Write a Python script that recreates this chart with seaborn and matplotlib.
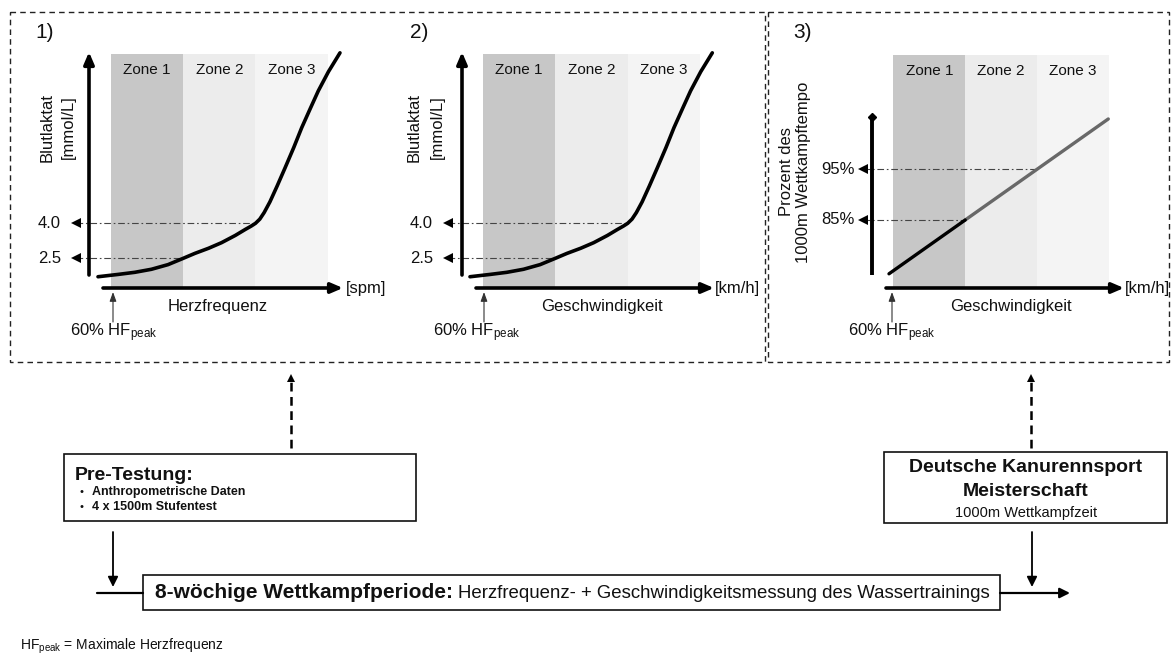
import matplotlib
matplotlib.use("Agg")
import matplotlib.pyplot as plt
import seaborn as sns
from matplotlib.patches import Rectangle
from matplotlib.transforms import blended_transform_factory

# ---- data -------------------------------------------------------------
zone_edges = [0, 1, 2, 3]
zone_names = ["Zone 1", "Zone 2", "Zone 3"]
zone_colors = ["#c7c7c7", "#ececec", "#f4f4f4"]

# lactate curve (mmol/L) over intensity, expressed in zone units
lactate_x = [-0.18, 0.10, 0.33, 0.56, 0.79, 1.00, 1.16, 1.35, 1.53, 1.72, 1.86, 1.94, 2.00,
             2.06, 2.12, 2.20, 2.30, 2.41, 2.53, 2.64, 2.76, 2.87, 3.01, 3.17]
lactate_y = [1.71, 1.81, 1.90, 2.03, 2.23, 2.50, 2.71, 2.93, 3.17, 3.48, 3.74, 3.88, 4.00,
             4.18, 4.46, 4.92, 5.60, 6.38, 7.25, 8.10, 8.93, 9.68, 10.50, 11.31]
lactate_levels = [2.5, 4.0]
lactate_labels = ["2.5", "4.0"]
lactate_level_x = [1.0, 2.0]

# percentage of 1000 m race pace over speed
pace_x = [-0.06, 1.0, 2.0, 2.99]
pace_y = [74.4, 85.0, 95.0, 104.9]
pace_levels = [85, 95]
pace_labels = ["85%", "95%"]
pace_level_x = [1.0, 2.0]

# ---- style ------------------------------------------------------------
sns.set_theme(style="white")
plt.rcParams["font.family"] = ["Liberation Sans", "DejaVu Sans"]
plt.rcParams["mathtext.default"] = "regular"
TXT = "#111111"

W, H = 1173, 658
fig = plt.figure(figsize=(W / 100, H / 100), dpi=100)
fig.patch.set_facecolor("white")

# overlay in pixel units for frames, arrows and annotations
canvas = fig.add_axes([0, 0, 1, 1])
canvas.set_xlim(0, W)
canvas.set_ylim(H, 0)
canvas.axis("off")
canvas.set_zorder(5)
canvas.patch.set_alpha(0)


def arrow(x0, y0, x1, y1, lw=1.0, hl=0.6, hw=0.3, color="black"):
    canvas.annotate("", xy=(x1, y1), xytext=(x0, y0),
                    arrowprops=dict(arrowstyle=f"-|>,head_length={hl},head_width={hw}",
                                    lw=lw, color=color, shrinkA=0, shrinkB=0,
                                    mutation_scale=10))


def make_panel(l, t, r, b, ylim):
    ax = fig.add_axes([l / W, 1 - b / H, (r - l) / W, (b - t) / H])
    ax.set_xlim(zone_edges[0], zone_edges[-1])
    ax.set_ylim(*ylim)
    ax.axis("off")
    for lo, hi, name, c in zip(zone_edges[:-1], zone_edges[1:], zone_names, zone_colors):
        ax.axvspan(lo, hi, color=c, lw=0, zorder=0)
        ax.text((lo + hi) / 2, 0.932, name, transform=ax.get_xaxis_transform(),
                ha="center", va="center", fontsize=11, color=TXT)
    return ax


def level_guides(ax, xs, ys, labels, x_start, label_px):
    trans = blended_transform_factory(canvas.transData, ax.transData)
    for xv, yv, lab in zip(xs, ys, labels):
        ax.plot([x_start, xv], [yv, yv], color="#444444", lw=0.8,
                dashes=(6, 2.5, 1.5, 2.5), clip_on=False, zorder=2)
        ax.plot([x_start], [yv], marker="<", ms=7, color="black", mew=0,
                clip_on=False, zorder=3)
        canvas.text(label_px, yv, lab, transform=trans, ha="right", va="center",
                    fontsize=12, color=TXT)


def axes_arrows(yaxis_x, y_bottom, y_top, x_left, x_right, xaxis_y, diamond=False):
    if diamond:
        canvas.plot([yaxis_x, yaxis_x], [y_bottom, y_top + 2], color="black", lw=2.8,
                    solid_capstyle="butt")
        canvas.plot([yaxis_x], [y_top], marker="D", ms=4.5, color="black")
    else:
        arrow(yaxis_x, y_bottom, yaxis_x, y_top, lw=2.6, hl=0.7, hw=0.3)
    arrow(x_left, xaxis_y, x_right, xaxis_y, lw=2.6, hl=0.7, hw=0.3)


def hf_marker(x, text_x):
    arrow(x, 322, x, 292, lw=0.8, hl=0.55, hw=0.2, color="#333333")
    canvas.text(text_x, 333, r"60% $\mathregular{HF_{peak}}$", ha="left", va="center",
                fontsize=12, color=TXT)


# ---- dashed frames ----------------------------------------------------
for (x0, y0, w, h) in [(10, 12, 755, 350), (768, 12, 401, 350)]:
    canvas.add_patch(Rectangle((x0, y0), w, h, fill=False, lw=1.0, ec="#222222",
                               ls=(0, (4, 3))))

# ---- panel 1: lactate vs heart rate ----------------------------------
ax1 = make_panel(111, 54, 327.7, 287, (1.27, 11.26))
sns.lineplot(x=lactate_x, y=lactate_y, ax=ax1, color="black", lw=2.6,
             sort=False, estimator=None, clip_on=False, zorder=4)
level_guides(ax1, lactate_level_x, lactate_levels, lactate_labels, -0.48, 61)
axes_arrows(89, 275, 52, 103, 343, 288)
canvas.text(35, 32, "1)", fontsize=15, ha="left", va="center", color=TXT)
canvas.text(47, 127, "Blutlaktat", rotation=90, ha="center", va="center", fontsize=12, color=TXT)
canvas.text(68, 127, "[mmol/L]", rotation=90, ha="center", va="center", fontsize=12, color=TXT)
canvas.text(218, 306, "Herzfrequenz", ha="center", va="center", fontsize=12, color=TXT)
canvas.text(346, 288, "[spm]", ha="left", va="center", fontsize=12, color=TXT)
hf_marker(113, 70)

# ---- panel 2: lactate vs speed ---------------------------------------
ax2 = make_panel(483, 54, 700, 287, (1.27, 11.26))
sns.lineplot(x=lactate_x, y=lactate_y, ax=ax2, color="black", lw=2.6,
             sort=False, estimator=None, clip_on=False, zorder=4)
level_guides(ax2, lactate_level_x, lactate_levels, lactate_labels, -0.48, 433)
axes_arrows(462, 275, 52, 476, 714, 288)
canvas.text(410, 32, "2)", fontsize=15, ha="left", va="center", color=TXT)
canvas.text(414, 127, "Blutlaktat", rotation=90, ha="center", va="center", fontsize=12, color=TXT)
canvas.text(437, 127, "[mmol/L]", rotation=90, ha="center", va="center", fontsize=12, color=TXT)
canvas.text(602, 306, "Geschwindigkeit", ha="center", va="center", fontsize=12, color=TXT)
canvas.text(715, 288, "[km/h]", ha="left", va="center", fontsize=12, color=TXT)
hf_marker(484, 433)

# ---- panel 3: race pace vs speed -------------------------------------
ax3 = make_panel(893.3, 55, 1109, 287, (71.8, 117.5))
sns.lineplot(x=pace_x[1:], y=pace_y[1:], ax=ax3, color="#686868", lw=2.4,
             sort=False, estimator=None, clip_on=False, zorder=4)
sns.lineplot(x=pace_x[:2], y=pace_y[:2], ax=ax3, color="black", lw=2.4,
             sort=False, estimator=None, clip_on=False, zorder=5)
level_guides(ax3, pace_level_x, pace_levels, pace_labels, -0.42, 855)
axes_arrows(872, 275, 117, 886, 1124, 288, diamond=True)
canvas.text(793, 32, "3)", fontsize=15, ha="left", va="center", color=TXT)
canvas.text(795, 172, "Prozent des\n1000m Wettkampftempo", rotation=90, ha="center",
            va="center", multialignment="center", fontsize=12, linespacing=1.2, color=TXT)
canvas.text(1011, 306, "Geschwindigkeit", ha="center", va="center", fontsize=12, color=TXT)
canvas.text(1125, 288, "[km/h]", ha="left", va="center", fontsize=12, color=TXT)
hf_marker(892, 848)

# ---- flow diagram -----------------------------------------------------
for xa in (291, 1031):
    canvas.plot([xa, xa], [448, 382], color="black", lw=1.8, dashes=(3.5, 2.2))
    canvas.plot([xa], [378], marker="^", ms=6, color="black", mew=0)

canvas.add_patch(Rectangle((64, 454), 352, 67, fill=False, lw=1.2, ec="#111111"))
canvas.text(75, 475, "Pre-Testung:", fontsize=14, fontweight="bold", ha="left", va="center", color=TXT)
for yy, item in zip((492, 507), ("Anthropometrische Daten", "4 x 1500m Stufentest")):
    canvas.text(79, yy, "•", fontsize=8, ha="left", va="center", color=TXT)
    canvas.text(92, yy, item, fontsize=9, fontweight="bold", ha="left", va="center", color=TXT)

canvas.add_patch(Rectangle((884, 452), 283, 71, fill=False, lw=1.2, ec="#111111"))
canvas.text(1026, 468, "Deutsche Kanurennsport", fontsize=14, fontweight="bold",
            ha="center", va="center", color=TXT)
canvas.text(1026, 491, "Meisterschaft", fontsize=14, fontweight="bold",
            ha="center", va="center", color=TXT)
canvas.text(1026, 513, "1000m Wettkampfzeit", fontsize=10.5, ha="center", va="center", color=TXT)

arrow(113, 532, 113, 587, lw=1.3, hl=0.6, hw=0.3)
arrow(1032, 532, 1032, 587, lw=1.3, hl=0.6, hw=0.3)
canvas.plot([97, 143], [593, 593], color="black", lw=1.6)
arrow(1000, 593, 1070, 593, lw=1.6, hl=0.6, hw=0.3)

canvas.add_patch(Rectangle((143, 575), 857, 35, fill=False, lw=1.2, ec="#111111"))
bold_part = canvas.text(155, 593, "8-wöchige Wettkampfperiode:", fontsize=15,
                        fontweight="bold", ha="left", va="center", color=TXT)
canvas.annotate("Herzfrequenz- + Geschwindigkeitsmessung des Wassertrainings",
                xy=(1, 0.5), xycoords=bold_part, xytext=(3.5, 0), textcoords="offset points",
                fontsize=13.4, ha="left", va="center", color=TXT)

canvas.text(20, 646, r"$\mathregular{HF_{peak}}$ = Maximale Herzfrequenz", fontsize=10,
            ha="left", va="center", color=TXT)

fig.savefig("out.png", dpi=100)
